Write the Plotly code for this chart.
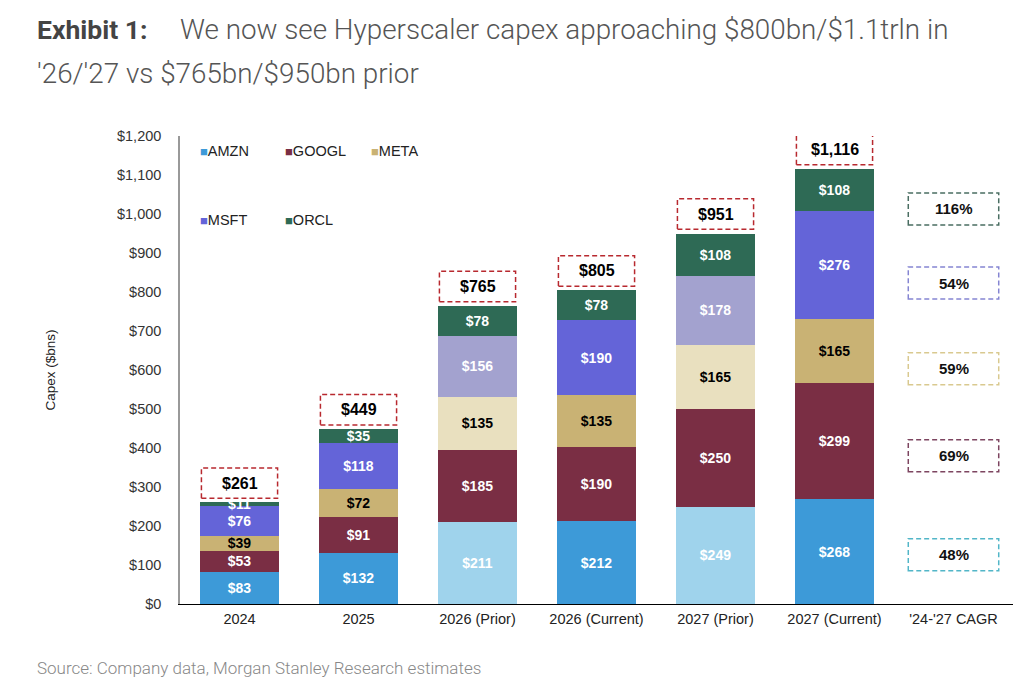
import plotly.graph_objects as go

categories = ['2024', '2025', '2026 (Prior)', '2026 (Current)',
              '2027 (Prior)', '2027 (Current)', "'24-'27 CAGR"]
bar_categories = categories[:6]
is_prior = [False, False, True, False, True, False]

amzn = [83, 132, 211, 212, 249, 268]
googl = [53, 91, 185, 190, 250, 299]
meta = [39, 72, 135, 135, 165, 165]
msft = [76, 118, 156, 190, 178, 276]
orcl = [11, 35, 78, 78, 108, 108]
totals = [261, 449, 765, 805, 951, 1116]

cagr_names = ['ORCL', 'MSFT', 'META', 'GOOGL', 'AMZN']
cagr_values = ['116%', '54%', '59%', '69%', '48%']

# ---- layout (pixel positions are page pixels; the page body adds an 8px margin) ----
OFF = 8
W, H = 1036 - OFF, 682 - OFF
L, R, T, B = 180 - OFF, 23, 136 - OFF, 78
PW, PH = W - L - R, H - T - B

series = [
    # name, values, colour, colour for "prior" columns, label colour
    ('AMZN', amzn, '#3d9ad8', '#9fd3ec', 'white'),
    ('GOOGL', googl, '#7a2e44', '#7a2e44', 'white'),
    ('META', meta, '#c9b274', '#e9e0bf', 'black'),
    ('MSFT', msft, '#6464d8', '#a3a2cf', 'white'),
    ('ORCL', orcl, '#2e6a55', '#2e6a55', 'white'),
]
cagr_border = {'ORCL': '#4a6e62', 'MSFT': '#8585d2', 'META': '#d9c98f',
               'GOOGL': '#7d4560', 'AMZN': '#52b6c8'}
cagr_centres = [1013, 823, 603, 380, 126]  # box centres on the y scale

FONT = 'Liberation Sans, Arial, sans-serif'
TITLE_FONT = 'Roboto, Liberation Sans, sans-serif'


def px_x(px):
    return (px - OFF - L) / PW


def px_y(py):
    return (H + OFF - B - py) / PH


fig = go.Figure()

for name, vals, col, col_prior, txt in series:
    colours = [col_prior if p else col for p in is_prior]
    fig.add_trace(go.Bar(
        name=name,
        x=bar_categories,
        y=vals,
        marker=dict(color=colours, line=dict(width=0)),
        text=['$%d' % v for v in vals],
        textposition='inside',
        insidetextanchor='middle',
        textangle=0,
        textfont=dict(family=FONT, size=14, color=txt, weight='bold'),
        showlegend=False,
        hovertemplate=name + ' %{x}: $%{y}bn<extra></extra>',
    ))

shapes = []
annotations = []

# total boxes above each bar
for i, tot in enumerate(totals):
    shapes.append(dict(type='rect', xref='x', yref='y',
                       x0=i - 0.32, x1=i + 0.32, y0=tot + 10, y1=tot + 88,
                       line=dict(color='#b8292f', width=1.5, dash='5px,3px'),
                       fillcolor='white', layer='above'))
    annotations.append(dict(x=i, y=tot + 49, xref='x', yref='y',
                            text='<b>$%s</b>' % format(tot, ','),
                            showarrow=False,
                            font=dict(family=FONT, size=16, color='black')))

# CAGR boxes
ci = len(categories) - 1
for name, val, yc in zip(cagr_names, cagr_values, cagr_centres):
    shapes.append(dict(type='rect', xref='x', yref='y',
                       x0=ci - 0.38, x1=ci + 0.38, y0=yc - 41, y1=yc + 41,
                       line=dict(color=cagr_border[name], width=1.5, dash='5px,3px'),
                       fillcolor='rgba(0,0,0,0)', layer='above'))
    annotations.append(dict(x=ci, y=yc, xref='x', yref='y',
                            text='<b>%s</b>' % val, showarrow=False,
                            font=dict(family=FONT, size=15, color='#111')))

# legend, laid out like the original (3 + 2 entries)
legend_pos = [(198, 151), (283, 151), (369, 151), (198, 220), (283, 220)]
for (name, vals, col, col_prior, txt), (lx, ly) in zip(series, legend_pos):
    annotations.append(dict(
        x=px_x(lx), y=px_y(ly), xref='paper', yref='paper',
        xanchor='left', yanchor='middle', showarrow=False,
        text="<span style='color:%s;font-size:13px'>■</span>%s" % (col, name),
        font=dict(family=FONT, size=14.5, color='#222')))

# title and source
annotations += [
    dict(x=px_x(35), y=px_y(30), xref='paper', yref='paper',
         xanchor='left', yanchor='middle', showarrow=False,
         text='<b>Exhibit 1:</b>',
         font=dict(family=TITLE_FONT, size=26.5, color='#444')),
    dict(x=px_x(178), y=px_y(30), xref='paper', yref='paper',
         xanchor='left', yanchor='middle', showarrow=False,
         text='We now see Hyperscaler capex approaching $800bn/$1.1trln in',
         font=dict(family=TITLE_FONT, size=27.8, color='#555', weight=300)),
    dict(x=px_x(35), y=px_y(73), xref='paper', yref='paper',
         xanchor='left', yanchor='middle', showarrow=False,
         text="'26/'27 vs $765bn/$950bn prior",
         font=dict(family=TITLE_FONT, size=27.8, color='#555', weight=300)),
    dict(x=px_x(35), y=px_y(668), xref='paper', yref='paper',
         xanchor='left', yanchor='middle', showarrow=False,
         text='Source: Company data, Morgan Stanley Research estimates',
         font=dict(family=TITLE_FONT, size=17, color='#888', weight=300)),
]

fig.update_layout(
    barmode='stack',
    bargap=0.33,
    width=W, height=H,
    margin=dict(l=L, r=R, t=T, b=B, autoexpand=False),
    paper_bgcolor='white',
    plot_bgcolor='white',
    font=dict(family=FONT, size=13, color='#333'),
    uniformtext=dict(minsize=14, mode='show'),
    shapes=shapes,
    annotations=annotations,
    xaxis=dict(
        categoryorder='array', categoryarray=categories,
        range=[-0.5, len(categories) - 0.5],
        showline=True, linecolor='black', linewidth=1,
        ticks='', showgrid=False,
        ticklabelstandoff=2,
        tickfont=dict(family=FONT, size=14.5, color='#222'),
    ),
    yaxis=dict(
        range=[0, 1200], dtick=100, tickprefix='$', tickformat=',',
        showline=True, linecolor='#999', linewidth=1.5,
        ticks='', showgrid=False, zeroline=False,
        ticklabelstandoff=14,
        tickfont=dict(family=FONT, size=14.5, color='#333'),
        title=dict(text='Capex ($bns)', standoff=58,
                   font=dict(family=FONT, size=13.5, color='#222')),
    ),
)

fig.write_html('out.html')
